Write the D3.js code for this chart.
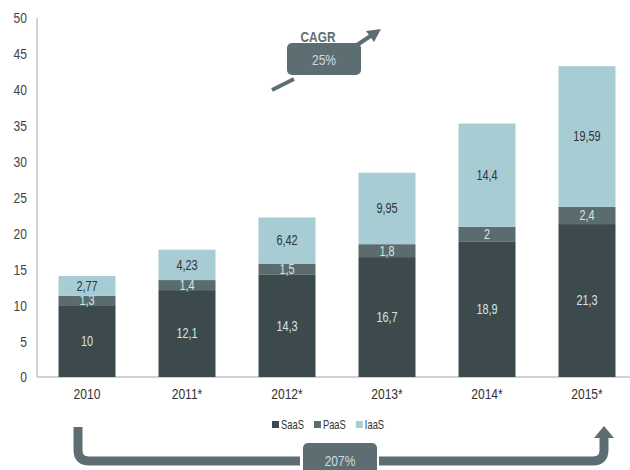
<!DOCTYPE html>
<html><head><meta charset="utf-8">
<script src="https://cdn.jsdelivr.net/npm/d3@7"></script>
<style>body{margin:0;background:#fff}svg{display:block}</style>
</head><body>
<script>
const categories = ["2010","2011*","2012*","2013*","2014*","2015*"];
const saas = [10,12.1,14.3,16.7,18.9,21.3];
const paas = [1.3,1.4,1.5,1.8,2,2.4];
const iaas = [2.77,4.23,6.42,9.95,14.4,19.59];
const seriesNames = ["SaaS","PaaS","IaaS"];
const yTicks = [0,5,10,15,20,25,30,35,40,45,50];
const cagrLabel = "CAGR", cagrValue = "25%", totalGrowth = "207%";

const W=630,H=470;
const font = "'Liberation Sans',Arial,sans-serif";
const colors = {SaaS:"#3d4a4d",PaaS:"#5b6c6f",IaaS:"#a8ccd4"};
const labelColors = {SaaS:"#d6e4e7",PaaS:"#d6e4e7",IaaS:"#2e3436"};
const svg = d3.select("body").append("svg").attr("width",W).attr("height",H);

// narrow text helper
function ntext(parent, xp, yp, str, opts){
  const o = Object.assign({size:15, anchor:"middle", fill:"#333", sx:0.8, weight:"normal"}, opts||{});
  const g = parent.append("g").attr("transform",`translate(${xp},${yp}) scale(${o.sx},1)`);
  return g.append("text").attr("x",0).attr("y",0).attr("dy","0.35em").attr("text-anchor",o.anchor)
    .attr("font-family",font).attr("font-size",o.size).attr("font-weight",o.weight).attr("fill",o.fill).text(str);
}

const x = d3.scaleBand().domain(categories).range([37,637]).paddingInner(0.43).paddingOuter(0.215);
const y = d3.scaleLinear().domain([0,50]).range([377,18]);

const data = categories.map((c,i)=>({cat:c,SaaS:saas[i],PaaS:paas[i],IaaS:iaas[i]}));
const stack = d3.stack().keys(seriesNames)(data);

// axes
svg.append("line").attr("x1",37).attr("x2",37).attr("y1",y(50)).attr("y2",y(0)).attr("stroke","#bcc6ca").attr("stroke-width",1.5);
svg.append("line").attr("x1",37).attr("x2",630).attr("y1",y(0)).attr("y2",y(0)).attr("stroke","#bcc6ca").attr("stroke-width",1.5);
yTicks.forEach(d=>ntext(svg,27,y(d),String(d),{anchor:"end",fill:"#444",size:15.5,sx:0.78}));
categories.forEach(d=>ntext(svg,x(d)+x.bandwidth()/2,394,d,{fill:"#333",size:15.5,sx:0.78}));

// bars
const g = svg.append("g");
stack.forEach(s=>{
  const key=s.key;
  g.selectAll(".b"+key).data(s).enter().append("rect")
   .attr("x",d=>x(d.data.cat)).attr("width",x.bandwidth())
   .attr("y",d=>y(d[1])).attr("height",d=>y(d[0])-y(d[1]))
   .attr("fill",colors[key]);
  s.forEach(d=>{
    ntext(g, x(d.data.cat)+x.bandwidth()/2, (y(d[0])+y(d[1]))/2, String(d.data[key]).replace(".",","),
      {size:14, sx:0.78, fill:labelColors[key]});
  });
});

// legend
const legend = svg.append("g").attr("transform","translate(272,425)");
let lx=0;
seriesNames.forEach(n=>{
  legend.append("rect").attr("x",lx).attr("y",-4).attr("width",7).attr("height",7).attr("fill",colors[n]);
  const t=ntext(legend,lx+9,0,n,{anchor:"start",size:12.5,sx:0.75});
  lx += 9 + t.node().getComputedTextLength()*0.75 + 10;
});

// CAGR annotation
const dark="#5d6e72";
svg.append("line").attr("x1",272).attr("y1",90).attr("x2",294).attr("y2",79).attr("stroke",dark).attr("stroke-width",4);
svg.append("line").attr("x1",357).attr("y1",45).attr("x2",372).attr("y2",35).attr("stroke",dark).attr("stroke-width",4);
svg.append("path").attr("d","M381,29 L366,31 L374,42 Z").attr("fill",dark);
svg.append("rect").attr("x",287).attr("y",43).attr("width",74).attr("height",32).attr("rx",5).attr("fill",dark);
ntext(svg,324,60,cagrValue,{size:15,fill:"#c9dde1"});
ntext(svg,318,37,cagrLabel,{size:14.5,weight:"bold",sx:0.82,fill:dark});

// bottom arrow
svg.append("path").attr("d","M78,427 L78,450 Q78,461 89,461 L300,461").attr("fill","none").attr("stroke",dark).attr("stroke-width",9);
svg.append("path").attr("d","M379,461 L593,461 Q604,461 604,450 L604,437").attr("fill","none").attr("stroke",dark).attr("stroke-width",9);
svg.append("path").attr("d","M594,438 L604,426 L614,438 Z").attr("fill",dark);
svg.append("rect").attr("x",303).attr("y",443).attr("width",74).attr("height",40).attr("rx",5).attr("fill",dark);
ntext(svg,340,461,totalGrowth,{size:15,fill:"#c9dde1"});
</script>
</body></html>
